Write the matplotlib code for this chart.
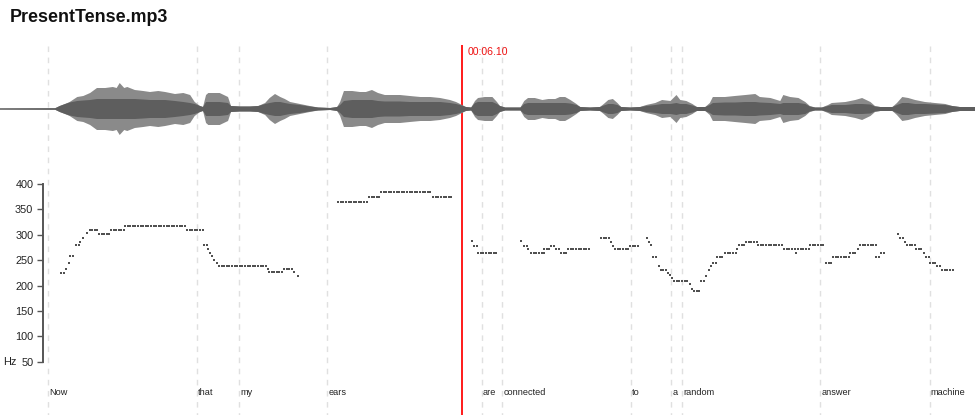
import numpy as np
import matplotlib
matplotlib.use("Agg")
from matplotlib import pyplot as plt

plt.rcParams['font.family'] = ['Liberation Sans', 'DejaVu Sans']

############# Data #############

title = "PresentTense.mp3"
duration = 12.87          # seconds
cursor_time = 6.10
cursor_label = "00:06.10"

words = ["Now", "that", "my", "ears", "are", "connected", "to", "a", "random", "answer", "machine"]
word_starts = [0.63, 2.60, 3.16, 4.32, 6.36, 6.63, 8.33, 8.86, 9.00, 10.83, 12.27]

# waveform envelope (seconds, outer amplitude, inner/rms amplitude)
env_time = [0.00, 0.73, 0.79, 0.86, 0.92, 1.02, 1.10, 1.19, 1.28, 1.39, 1.49, 1.54, 1.58, 1.64, 1.68,
            1.78, 1.89, 1.98, 2.09, 2.18, 2.31, 2.42, 2.51, 2.57, 2.64, 2.68, 2.72, 2.75, 2.90, 3.01,
            3.05, 3.17, 3.30, 3.41, 3.50, 3.56, 3.63, 3.70, 3.76, 3.83, 3.96, 4.09, 4.20, 4.36, 4.45,
            4.49, 4.54, 4.65, 4.75, 4.83, 4.91, 4.99, 5.08, 5.22, 5.28, 5.41, 5.55, 5.68, 5.81, 5.94,
            6.02, 6.10, 6.15, 6.22, 6.27, 6.31, 6.40, 6.50, 6.56, 6.60, 6.67, 6.87, 6.92, 6.97, 7.06,
            7.16, 7.24, 7.33, 7.39, 7.46, 7.53, 7.61, 7.66, 7.79, 7.92, 7.97, 8.03, 8.09, 8.15, 8.20,
            8.32, 8.45, 8.53, 8.65, 8.74, 8.85, 8.93, 8.98, 9.06, 9.14, 9.20, 9.31, 9.37, 9.41, 9.57,
            9.70, 9.84, 9.97, 10.03, 10.17, 10.30, 10.34, 10.43, 10.54, 10.63, 10.69, 10.76, 10.85, 10.93, 10.98,
            11.16, 11.29, 11.38, 11.49, 11.55, 11.62, 11.78, 11.84, 11.91, 11.99, 12.08, 12.21, 12.34, 12.48, 12.57,
            12.67, 12.87]
env_outer = [0.6, 0.8, 3, 5, 7, 12, 13, 16, 21, 21, 22, 21, 26, 21, 22,
             19, 18, 17, 18, 17, 15, 16, 14, 7, 3, 2, 14, 16, 16, 12,
             3, 2.5, 2.5, 3, 6, 11, 15, 12, 10, 7, 5, 3, 1.5, 1, 2,
             7, 18, 18, 17, 17, 19, 16, 14, 14, 14, 13, 12, 12, 11, 9,
             7, 4, 2, 1.5, 8, 11, 12, 12, 7, 3, 1.5, 1.5, 8, 11, 11,
             9, 10, 10, 12, 12, 9, 5, 2, 1.5, 2, 5, 9, 10, 6, 2,
             1.5, 2, 4, 6, 9, 8, 14, 9, 8, 5, 2, 2, 6, 12, 12,
             13, 14, 15, 12, 11, 8, 14, 12, 11, 7, 3, 1.5, 1.5, 4, 6,
             7, 9, 11, 7, 3, 2, 2, 6, 12, 11, 9, 7, 6, 5, 3,
             2, 2]
env_inner = [0.6, 0.8, 3, 5, 6.5, 8, 8.5, 9, 10, 10, 10, 10, 10, 10, 10,
             10, 9.5, 9, 9, 9, 8, 7, 6, 5, 3, 2, 7, 7, 7, 6,
             3, 2.5, 2.5, 3, 5, 6, 7, 7, 6, 5, 4, 2.5, 1.5, 1, 2,
             4, 8, 9, 9, 9, 9, 8, 7.5, 7.5, 7.5, 7, 7, 7, 7, 6,
             5, 3.5, 2, 1.5, 6, 7, 7, 7, 5, 3, 1.5, 1.5, 5, 6, 6,
             6, 6, 6, 6, 6, 5.5, 4, 2, 1.5, 2, 3.5, 5, 5, 4, 2,
             1.5, 2, 3, 4, 5, 5, 6, 5, 5, 3.5, 2, 2, 4, 6, 6.5,
             6.5, 7, 7, 6.5, 6, 5, 6, 6, 6, 5, 2.5, 1.5, 1.5, 3, 4,
             4, 5, 5, 4.5, 2.5, 2, 2, 4, 6, 6, 5, 5, 4.5, 4, 3,
             2, 2]

# pitch track, run-length coded: start time (s), number of frames, pitch (Hz)
frame_step = 0.0343
pitch_start = [0.805, 0.871, 0.911, 0.924, 1.003, 1.056, 1.096, 1.149, 1.182, 1.307, 1.466, 1.650, 2.469,
               2.693, 2.746, 2.773, 2.799, 2.825, 2.865, 2.891, 3.532, 3.552, 3.750, 3.882, 3.934,
               4.463, 4.872, 5.030, 5.717,
               6.232, 6.258, 6.311, 6.879, 6.918, 6.971, 7.011, 7.182, 7.275, 7.341, 7.407, 7.499,
               7.935, 8.067, 8.093, 8.120, 8.318, 8.536, 8.569, 8.595, 8.622, 8.701, 8.721, 8.820,
               8.846, 8.872, 8.899, 9.110, 9.136, 9.163, 9.255, 9.321, 9.361, 9.387, 9.414, 9.467,
               9.572, 9.731, 9.757, 9.849, 10.008, 10.351, 10.510, 10.536, 10.694, 10.906, 10.998, 11.223,
               11.328, 11.355, 11.566, 11.632, 11.856, 11.883, 11.949, 11.975, 12.094, 12.200, 12.226, 12.279,
               12.371, 12.437]
pitch_count = [2, 1, 1, 2, 2, 1, 1, 1, 4, 5, 6, 24, 7,
               2, 1, 1, 1, 1, 1, 19, 1, 6, 4, 1, 1,
               12, 5, 20, 8,
               1, 2, 8, 1, 2, 1, 6, 3, 2, 2, 3, 9,
               4, 1, 1, 6, 4, 1, 1, 1, 2, 1, 3, 1,
               1, 1, 6, 1, 1, 3, 2, 1, 1, 1, 2, 3,
               5, 1, 3, 5, 10, 5, 1, 5, 6, 3, 7, 3,
               1, 7, 2, 2, 1, 2, 1, 4, 3, 1, 2, 3,
               2, 5]
pitch_hz = [225, 232, 245, 258, 279, 286, 294, 303, 310, 302, 310, 318, 310,
            279, 272, 265, 258, 251, 245, 238, 232, 226, 232, 226, 218,
            365, 374, 384, 374,
            287, 278, 264, 287, 278, 271, 264, 271, 278, 271, 264, 271,
            294, 286, 278, 271, 278, 294, 286, 279, 257, 238, 231, 225,
            220, 214, 209, 204, 194, 189, 209, 219, 231, 238, 245, 257,
            264, 271, 279, 286, 279, 271, 265, 271, 279, 245, 257, 264,
            271, 279, 257, 264, 302, 294, 286, 279, 271, 264, 257, 245,
            238, 231]

hz_ticks = [50, 100, 150, 200, 250, 300, 350, 400]

############# Figure #############

W, H = 975, 415
fig = plt.figure(figsize=(W / 100, H / 100), dpi=100)
fig.patch.set_facecolor('white')

# background layer in pixel-like units for the boundary lines and words
ax_bg = fig.add_axes([0, 0, 1, 1])
ax_bg.set_xlim(0, duration)
ax_bg.set_ylim(H, 0)
ax_bg.axis('off')
ax_bg.vlines(word_starts, 46, H, colors='#e0e0e0', linewidth=1, linestyles=(0, (4, 4)))
for t, w in zip(word_starts, words):
    ax_bg.text(t + 0.015, 392, w, fontsize=6.6, color='#222222', ha='left', va='center')

# waveform
ax_w = fig.add_axes([0, (H - 139) / H, 1, 60 / H])
ax_w.set_xlim(0, duration)
ax_w.set_ylim(-30, 30)
ax_w.axis('off')
et = np.array(env_time)
eo = np.array(env_outer)
ei = np.array(env_inner)
ax_w.fill_between(et, -eo, eo, color='#8a8a8a', linewidth=0)
ax_w.fill_between(et, -ei, ei, color='#5e5e5e', linewidth=0)

# pitch track
ax_p = fig.add_axes([0, (H - 361.7) / H, 1, 177.7 / H])
ax_p.set_xlim(0, duration)
ax_p.set_ylim(50, 400)
ax_p.patch.set_alpha(0)
for s in ['top', 'right', 'bottom']:
    ax_p.spines[s].set_visible(False)
ax_p.spines['left'].set_position(('data', 0.568))
ax_p.spines['left'].set_color('#555555')
ax_p.spines['left'].set_linewidth(1.4)
ax_p.set_xticks([])
ax_p.set_yticks(hz_ticks)
ax_p.tick_params(axis='y', length=4, width=1, color='#555555', labelsize=7.8,
                 labelcolor='#222222', pad=3)
ax_p.text(0.04, 50, "Hz", fontsize=7.8, color='#222222', ha='left', va='center')

px = []
py = []
for st, n, hz in zip(pitch_start, pitch_count, pitch_hz):
    for k in range(n):
        px.append(st + k * frame_step)
        py.append(hz)
ax_p.scatter(px, py, marker='s', s=0.85, color='#505050', linewidths=0)

# playback cursor
ax_bg.vlines([cursor_time], 45, H, colors='#ff1a1a', linewidth=1.4)
ax_bg.text(cursor_time + 0.07, 52, cursor_label, fontsize=7.6, color='#ee1111', ha='left', va='center')

fig.text(10 / W, 1 - 18 / H, title, fontsize=12.9, fontweight='bold', color='#111111',
         ha='left', va='center')

fig.savefig("out.png", dpi=100)
